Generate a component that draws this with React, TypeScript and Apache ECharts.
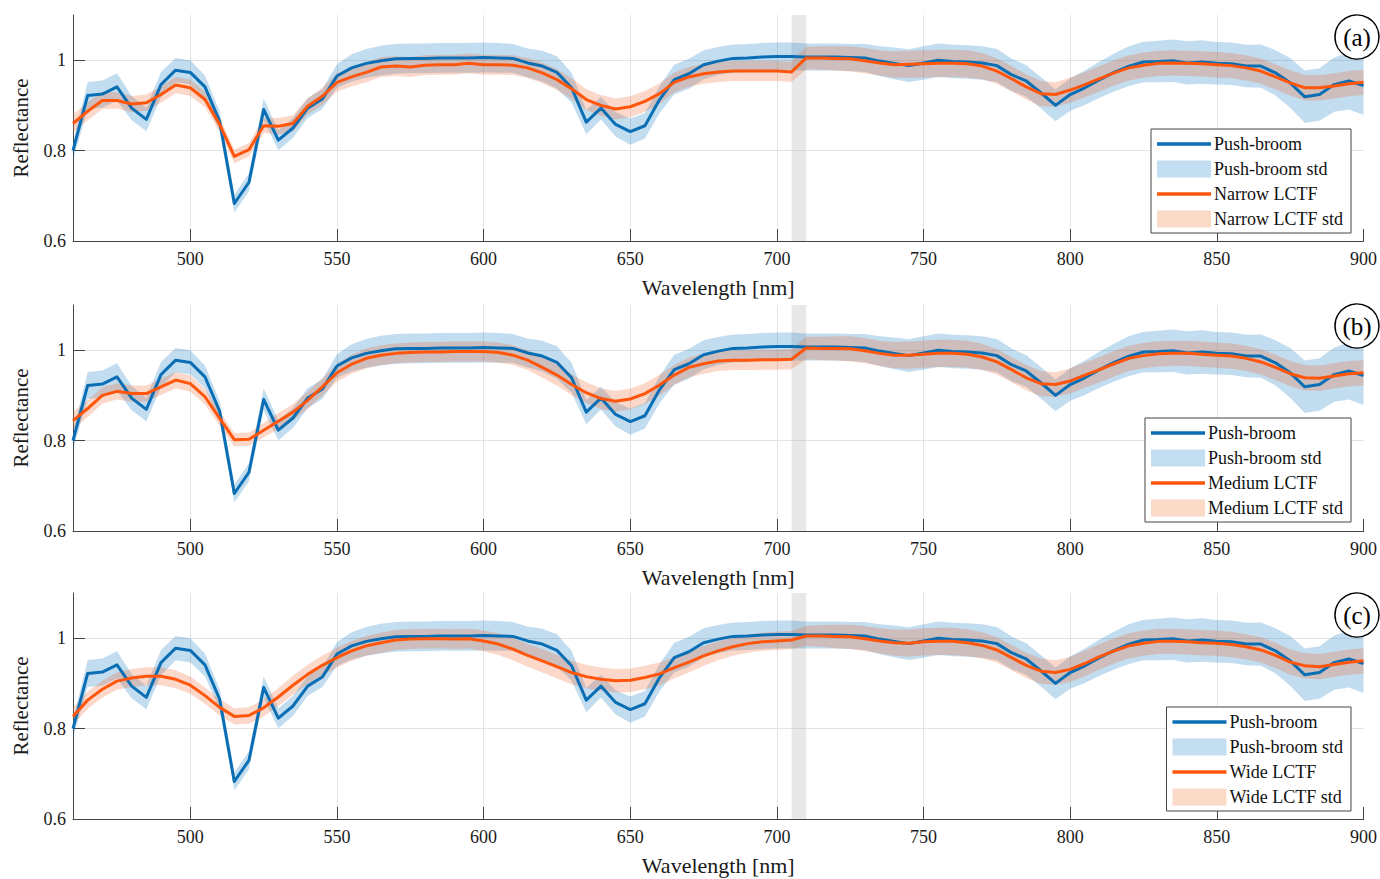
import React, { useEffect, useRef } from 'react';
import * as echarts from 'echarts';

const wavelengths = [
  460, 465, 470, 475, 480, 485, 490, 495, 500,
  505, 510, 515, 520, 525, 530, 535, 540, 545, 550,
  555, 560, 565, 570, 575, 580, 585, 590, 595, 600,
  605, 610, 615, 620, 625, 630, 635, 640, 645, 650,
  655, 660, 665, 670, 675, 680, 685, 690, 695, 700,
  705, 710, 715, 720, 725, 730, 735, 740, 745, 750,
  755, 760, 765, 770, 775, 780, 785, 790, 795, 800,
  805, 810, 815, 820, 825, 830, 835, 840, 845, 850,
  855, 860, 865, 870, 875, 880, 885, 890, 895, 900,
];

const pushBroom = [
  0.800, 0.922, 0.925, 0.941, 0.894, 0.869, 0.946, 0.978, 0.973,
  0.941, 0.865, 0.683, 0.730, 0.891, 0.823, 0.850, 0.894, 0.914, 0.965,
  0.983, 0.993, 0.999, 1.003, 1.004, 1.004, 1.005, 1.005, 1.005, 1.006,
  1.005, 1.004, 0.994, 0.987, 0.973, 0.939, 0.863, 0.894, 0.858, 0.842,
  0.855, 0.913, 0.957, 0.970, 0.990, 0.998, 1.004, 1.005, 1.007, 1.008,
  1.008, 1.007, 1.007, 1.007, 1.006, 1.005, 0.998, 0.993, 0.988, 0.994,
  1.000, 0.997, 0.996, 0.994, 0.988, 0.968, 0.954, 0.928, 0.900, 0.924,
  0.939, 0.957, 0.973, 0.987, 0.996, 0.997, 0.999, 0.994, 0.996, 0.993,
  0.992, 0.987, 0.987, 0.972, 0.950, 0.919, 0.924, 0.946, 0.954, 0.944,
];

const pushBroomStd = [
  0.020, 0.030, 0.030, 0.030, 0.027, 0.026, 0.028, 0.027, 0.027,
  0.025, 0.022, 0.020, 0.020, 0.024, 0.022, 0.022, 0.022, 0.022, 0.026,
  0.030, 0.032, 0.033, 0.033, 0.033, 0.033, 0.033, 0.033, 0.033, 0.033,
  0.033, 0.032, 0.032, 0.034, 0.036, 0.033, 0.027, 0.025, 0.027, 0.029,
  0.028, 0.030, 0.033, 0.033, 0.032, 0.031, 0.031, 0.031, 0.031, 0.031,
  0.031, 0.030, 0.030, 0.030, 0.030, 0.031, 0.033, 0.035, 0.036, 0.037,
  0.037, 0.037, 0.037, 0.037, 0.037, 0.036, 0.035, 0.035, 0.035, 0.036,
  0.038, 0.040, 0.042, 0.044, 0.045, 0.046, 0.047, 0.048, 0.048, 0.047,
  0.047, 0.047, 0.048, 0.050, 0.055, 0.058, 0.058, 0.060, 0.063, 0.065,
];

const narrowLctf = [
  0.860, 0.887, 0.911, 0.911, 0.903, 0.906, 0.924, 0.945, 0.939,
  0.913, 0.858, 0.787, 0.802, 0.855, 0.854, 0.860, 0.898, 0.920, 0.951,
  0.963, 0.973, 0.985, 0.987, 0.985, 0.989, 0.990, 0.990, 0.993, 0.990,
  0.990, 0.989, 0.983, 0.972, 0.957, 0.937, 0.913, 0.900, 0.892, 0.897,
  0.909, 0.926, 0.951, 0.963, 0.970, 0.974, 0.976, 0.976, 0.976, 0.976,
  0.974, 1.005, 1.005, 1.004, 1.003, 0.999, 0.994, 0.990, 0.991, 0.992,
  0.993, 0.993, 0.992, 0.987, 0.976, 0.959, 0.941, 0.926, 0.924, 0.934,
  0.946, 0.959, 0.972, 0.983, 0.989, 0.993, 0.994, 0.993, 0.992, 0.990,
  0.988, 0.983, 0.976, 0.963, 0.950, 0.939, 0.939, 0.943, 0.948, 0.951,
];

const narrowStd = [
  0.020, 0.020, 0.019, 0.018, 0.018, 0.018, 0.018, 0.018, 0.018,
  0.017, 0.016, 0.015, 0.015, 0.016, 0.018, 0.018, 0.018, 0.019, 0.020,
  0.021, 0.022, 0.022, 0.022, 0.022, 0.022, 0.022, 0.022, 0.022, 0.022,
  0.022, 0.022, 0.022, 0.023, 0.023, 0.023, 0.023, 0.023, 0.023, 0.023,
  0.023, 0.023, 0.022, 0.022, 0.022, 0.022, 0.022, 0.022, 0.022, 0.022,
  0.022, 0.025, 0.026, 0.027, 0.028, 0.028, 0.028, 0.029, 0.030, 0.030,
  0.030, 0.030, 0.030, 0.029, 0.028, 0.028, 0.028, 0.028, 0.027, 0.028,
  0.028, 0.028, 0.028, 0.028, 0.028, 0.028, 0.028, 0.028, 0.028, 0.028,
  0.028, 0.028, 0.028, 0.028, 0.028, 0.028, 0.028, 0.028, 0.028, 0.028,
];

const mediumLctf = [
  0.844, 0.871, 0.900, 0.909, 0.904, 0.904, 0.919, 0.934, 0.926,
  0.897, 0.849, 0.802, 0.803, 0.823, 0.843, 0.863, 0.889, 0.919, 0.950,
  0.969, 0.982, 0.989, 0.993, 0.995, 0.996, 0.996, 0.997, 0.997, 0.997,
  0.995, 0.989, 0.978, 0.962, 0.945, 0.924, 0.906, 0.893, 0.887, 0.892,
  0.904, 0.923, 0.945, 0.962, 0.970, 0.976, 0.978, 0.978, 0.979, 0.979,
  0.980, 1.005, 1.004, 1.004, 1.003, 0.999, 0.993, 0.989, 0.989, 0.991,
  0.993, 0.993, 0.991, 0.985, 0.974, 0.957, 0.939, 0.926, 0.924, 0.932,
  0.945, 0.957, 0.970, 0.982, 0.988, 0.992, 0.993, 0.993, 0.991, 0.989,
  0.987, 0.982, 0.974, 0.962, 0.948, 0.939, 0.938, 0.943, 0.948, 0.950,
];

const mediumStd = [
  0.019, 0.019, 0.018, 0.018, 0.018, 0.018, 0.018, 0.018, 0.018,
  0.017, 0.016, 0.015, 0.015, 0.016, 0.018, 0.018, 0.019, 0.019, 0.020,
  0.021, 0.022, 0.022, 0.022, 0.022, 0.022, 0.022, 0.022, 0.022, 0.022,
  0.022, 0.022, 0.022, 0.023, 0.023, 0.023, 0.023, 0.023, 0.023, 0.023,
  0.023, 0.023, 0.022, 0.022, 0.022, 0.022, 0.022, 0.022, 0.022, 0.022,
  0.022, 0.025, 0.026, 0.027, 0.028, 0.028, 0.028, 0.029, 0.030, 0.030,
  0.030, 0.030, 0.030, 0.029, 0.028, 0.028, 0.028, 0.028, 0.027, 0.028,
  0.028, 0.028, 0.028, 0.028, 0.028, 0.028, 0.028, 0.028, 0.028, 0.028,
  0.028, 0.028, 0.028, 0.028, 0.028, 0.028, 0.028, 0.028, 0.028, 0.028,
];

const wideLctf = [
  0.827, 0.863, 0.887, 0.905, 0.912, 0.916, 0.916, 0.909, 0.896,
  0.873, 0.847, 0.827, 0.829, 0.846, 0.870, 0.896, 0.920, 0.940, 0.957,
  0.972, 0.983, 0.990, 0.996, 0.998, 0.999, 0.999, 0.998, 0.999, 0.994,
  0.987, 0.976, 0.962, 0.950, 0.937, 0.924, 0.915, 0.909, 0.906, 0.907,
  0.913, 0.921, 0.935, 0.947, 0.961, 0.972, 0.981, 0.988, 0.992, 0.994,
  0.996, 1.005, 1.005, 1.004, 1.003, 0.999, 0.994, 0.990, 0.989, 0.992,
  0.993, 0.993, 0.990, 0.984, 0.974, 0.957, 0.940, 0.927, 0.924, 0.931,
  0.944, 0.959, 0.972, 0.983, 0.989, 0.993, 0.993, 0.992, 0.990, 0.989,
  0.986, 0.981, 0.974, 0.962, 0.947, 0.939, 0.937, 0.942, 0.947, 0.950,
];

const wideStd = [
  0.019, 0.019, 0.019, 0.019, 0.020, 0.020, 0.020, 0.020, 0.019,
  0.018, 0.018, 0.018, 0.018, 0.019, 0.020, 0.021, 0.021, 0.022, 0.022,
  0.022, 0.022, 0.022, 0.022, 0.022, 0.022, 0.022, 0.022, 0.022, 0.023,
  0.024, 0.025, 0.025, 0.026, 0.026, 0.026, 0.026, 0.026, 0.026, 0.026,
  0.026, 0.025, 0.024, 0.023, 0.022, 0.021, 0.020, 0.020, 0.020, 0.020,
  0.020, 0.022, 0.024, 0.026, 0.027, 0.028, 0.028, 0.029, 0.030, 0.030,
  0.030, 0.030, 0.030, 0.029, 0.028, 0.028, 0.028, 0.028, 0.027, 0.028,
  0.028, 0.028, 0.028, 0.028, 0.028, 0.028, 0.028, 0.028, 0.028, 0.028,
  0.028, 0.028, 0.028, 0.028, 0.028, 0.028, 0.028, 0.028, 0.028, 0.028,
];

const xTickValues = [500, 550, 600, 650, 700, 750, 800, 850, 900];
const yTickValues = [0.6, 0.8, 1];
const panelLabels = ['(a)', '(b)', '(c)'];
const lctfNames = ['Narrow LCTF', 'Medium LCTF', 'Wide LCTF'];
const pushBroomName = 'Push-broom';
const highlightBand = ['705', '710'];

const FONT = '"Liberation Serif", "DejaVu Serif", serif';
const BLUE = '#0a6eb4';
const ORANGE = '#ff560c';
const BLUE_FILL = 'rgba(0,114,189,0.24)';
const ORANGE_FILL = 'rgba(240,100,40,0.25)';
const BLUE_SWATCH = '#c2def0';
const ORANGE_SWATCH = '#fcdac8';
const AXIS_COLOR = '#444444';
const GRID_COLOR = '#e3e3e3';
const LINE_ICON = 'path://M0,0H54V3.3H0Z';

function buildOption() {
  const lctfValues = [narrowLctf, mediumLctf, wideLctf];
  const lctfStds = [narrowStd, mediumStd, wideStd];
  const tops = [15, 305, 593];
  const plotHeight = 226;
  const legendTops = [129, 418, 707];
  const labelCenters = [37, 326, 615];
  const categories = wavelengths.map((w) => String(w));
  const isTick = (value: string) => xTickValues.indexOf(Number(value)) >= 0;
  const isGrid = (value: string) => isTick(value) && Number(value) !== 900;

  const grid = tops.map((t) => ({ left: 73, right: 15, top: t, height: plotHeight }));

  const xAxis = tops.map((_, i) => ({
    type: 'category',
    gridIndex: i,
    data: categories,
    boundaryGap: false,
    name: 'Wavelength [nm]',
    nameLocation: 'middle',
    nameGap: 35,
    nameTextStyle: { fontFamily: FONT, fontSize: 22, color: '#1a1a1a' },
    axisLine: { show: true, lineStyle: { color: AXIS_COLOR, width: 1 } },
    axisTick: {
      show: true,
      inside: true,
      length: 12,
      alignWithLabel: true,
      interval: (_idx: number, value: string) => isTick(value),
      lineStyle: { color: AXIS_COLOR },
    },
    axisLabel: {
      interval: (_idx: number, value: string) => isTick(value),
      fontFamily: FONT,
      fontSize: 18,
      color: '#1a1a1a',
      margin: 9,
    },
    splitLine: {
      show: true,
      interval: (_idx: number, value: string) => isGrid(value),
      lineStyle: { color: GRID_COLOR, width: 1 },
    },
  }));

  const yAxis = tops.map((_, i) => ({
    type: 'value',
    gridIndex: i,
    min: 0.6,
    max: 1.1,
    interval: 0.2,
    name: 'Reflectance',
    nameLocation: 'middle',
    nameGap: 42,
    nameTextStyle: { fontFamily: FONT, fontSize: 21, color: '#1a1a1a' },
    axisLine: { show: true, lineStyle: { color: AXIS_COLOR, width: 1 } },
    axisTick: { show: true, inside: true, length: 12, customValues: yTickValues, lineStyle: { color: AXIS_COLOR } },
    axisLabel: { customValues: yTickValues, fontFamily: FONT, fontSize: 18, color: '#1a1a1a', margin: 7 },
    splitLine: { show: true, lineStyle: { color: [GRID_COLOR, GRID_COLOR, GRID_COLOR, 'rgba(0,0,0,0)'], width: 1 } },
  }));

  const series: any[] = [];
  tops.forEach((_, i) => {
    const lctf = lctfValues[i];
    const lstd = lctfStds[i];
    const common = {
      type: 'line',
      xAxisIndex: i,
      yAxisIndex: i,
      showSymbol: false,
      symbol: 'none',
      emphasis: { disabled: true },
      silent: true,
    };
    series.push({
      ...common,
      name: `pbLow${i}`,
      stack: `pb${i}`,
      data: pushBroom.map((v, k) => v - pushBroomStd[k]),
      lineStyle: { opacity: 0 },
      itemStyle: { color: BLUE_SWATCH },
    });
    series.push({
      ...common,
      name: 'Push-broom std',
      stack: `pb${i}`,
      data: pushBroomStd.map((s) => 2 * s),
      lineStyle: { opacity: 0 },
      itemStyle: { color: BLUE_SWATCH },
      areaStyle: { color: BLUE_FILL, opacity: 1 },
    });
    series.push({
      ...common,
      name: `lcLow${i}`,
      stack: `lc${i}`,
      data: lctf.map((v, k) => v - lstd[k]),
      lineStyle: { opacity: 0 },
      itemStyle: { color: ORANGE_SWATCH },
    });
    series.push({
      ...common,
      name: `${lctfNames[i]} std`,
      stack: `lc${i}`,
      data: lstd.map((s) => 2 * s),
      lineStyle: { opacity: 0 },
      itemStyle: { color: ORANGE_SWATCH },
      areaStyle: { color: ORANGE_FILL, opacity: 1 },
      markArea: {
        silent: true,
        itemStyle: { color: 'rgba(190,190,190,0.36)' },
        data: [[{ xAxis: highlightBand[0] }, { xAxis: highlightBand[1] }]],
      },
    });
    series.push({
      ...common,
      name: pushBroomName,
      data: pushBroom,
      itemStyle: { color: BLUE },
      lineStyle: { color: BLUE, width: 3, join: 'round' },
    });
    series.push({
      ...common,
      name: lctfNames[i],
      data: lctf,
      itemStyle: { color: ORANGE },
      lineStyle: { color: ORANGE, width: 3, join: 'round' },
    });
  });

  const legend = tops.map((_, i) => ({
    orient: 'vertical',
    right: 29,
    top: legendTops[i],
    padding: [6, 8, 5, 6],
    itemWidth: 54,
    itemHeight: 17,
    itemGap: 7,
    borderColor: '#444444',
    borderWidth: 1,
    backgroundColor: '#ffffff',
    selectedMode: false,
    textStyle: { fontFamily: FONT, fontSize: 18, color: '#111111', padding: [0, 0, 0, -2] },
    data: [
      { name: pushBroomName, icon: LINE_ICON },
      { name: 'Push-broom std', icon: 'rect' },
      { name: lctfNames[i], icon: LINE_ICON },
      { name: `${lctfNames[i]} std`, icon: 'rect' },
    ],
  }));

  const graphic: any[] = [];
  panelLabels.forEach((label, i) => {
    graphic.push({
      type: 'circle',
      shape: { cx: 1357, cy: labelCenters[i], r: 22 },
      style: { fill: '#ffffff', stroke: '#000000', lineWidth: 1.5 },
      z: 100,
    });
    graphic.push({
      type: 'text',
      x: 1357,
      y: labelCenters[i],
      style: {
        text: label,
        font: `25px ${FONT}`,
        fill: '#000000',
        align: 'center',
        verticalAlign: 'middle',
        textAlign: 'center',
        textVerticalAlign: 'middle',
      },
      z: 101,
    });
  });

  return {
    animation: false,
    backgroundColor: '#ffffff',
    textStyle: { fontFamily: FONT },
    grid,
    xAxis,
    yAxis,
    legend,
    series,
    graphic,
  };
}

export default function App() {
  const ref = useRef<HTMLDivElement>(null);
  useEffect(() => {
    document.body.style.margin = '0';
    if (!ref.current) return;
    const chart = echarts.init(ref.current, undefined, { renderer: 'svg' });
    chart.setOption(buildOption() as any);
    return () => chart.dispose();
  }, []);
  return <div ref={ref} style={{ width: 1380, height: 879 }} />;
}
